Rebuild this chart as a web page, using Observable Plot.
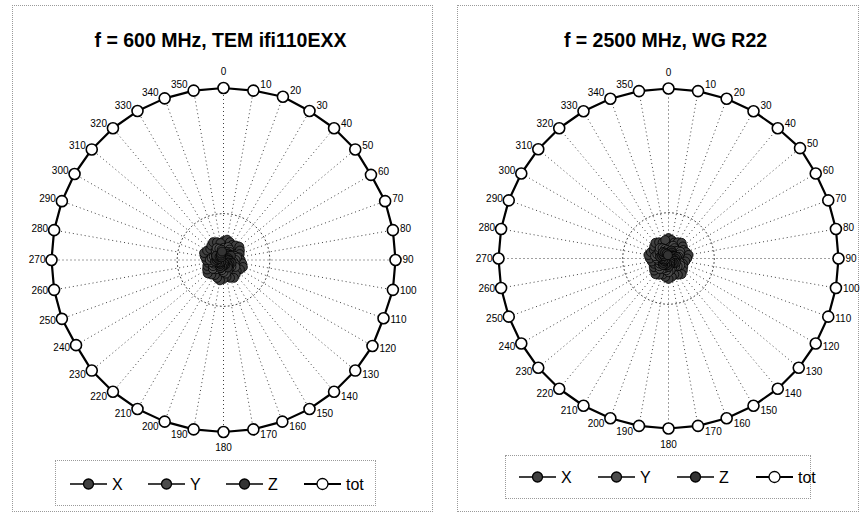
<!DOCTYPE html>
<html>
<head>
<meta charset="utf-8">
<script src="https://cdn.jsdelivr.net/npm/d3@7"></script>
<script src="https://cdn.jsdelivr.net/npm/@observablehq/plot@0.6"></script>
<style>
  html, body { margin: 0; padding: 0; background: #fff; }
  body { width: 862px; height: 517px; position: relative; overflow: hidden;
         font-family: "Liberation Sans", Arial, sans-serif; }
  .box { position: absolute; border: 1px dotted #9a9a9a; box-sizing: border-box; }
  .title { position: absolute; width: 431px; text-align: center; font-weight: bold;
           font-size: 19.5px; line-height: 20px; color: #000; white-space: nowrap; }
  .chart { position: absolute; top: 60px; width: 431px; height: 400px; }
  .legend { position: absolute; left: 0; top: 0; }
</style>
</head>
<body>
<div class="box" style="left:12px;top:5px;width:421px;height:507px;"></div>
<div class="box" style="left:457px;top:5px;width:402px;height:507px;"></div>
<div class="box" style="left:55px;top:460px;width:321px;height:46px;"></div>
<div class="box" style="left:505px;top:455px;width:306px;height:44px;"></div>
<div id="t1" class="title" style="left:5px;top:30px;"></div>
<div id="t2" class="title" style="left:450px;top:30px;"></div>
<div id="c1" class="chart" style="left:0px;"></div>
<div id="c2" class="chart" style="left:431px;"></div>
<svg id="leg" class="legend" width="862" height="517"></svg>
<script>
// ---------- data ----------
const titles = ["f = 600 MHz, TEM ifi110EXX", "f = 2500 MHz, WG R22"];
const seriesNames = ["X", "Y", "Z", "tot"];
const angles = [0,10,20,30,40,50,60,70,80,90,100,110,120,130,140,150,160,170,
                180,190,200,210,220,230,240,250,260,270,280,290,300,310,320,330,340,350];

// panel 1: f = 600 MHz
const p1_X   = [0.11,0.12,0.11,0.10,0.11,0.12,0.11,0.10,0.09,0.10,0.11,0.12,0.11,0.10,0.11,0.12,0.11,0.10,
                0.11,0.12,0.11,0.10,0.11,0.12,0.11,0.10,0.09,0.10,0.11,0.12,0.11,0.10,0.11,0.12,0.11,0.10];
const p1_Y   = [0.07,0.06,0.08,0.07,0.06,0.05,0.06,0.07,0.08,0.07,0.06,0.07,0.08,0.06,0.05,0.06,0.07,0.08,
                0.07,0.06,0.05,0.06,0.07,0.08,0.07,0.06,0.07,0.08,0.07,0.06,0.05,0.06,0.07,0.08,0.07,0.06];
const p1_Z   = [0.04,0.03,0.05,0.04,0.03,0.04,0.05,0.03,0.02,0.03,0.04,0.05,0.04,0.03,0.04,0.05,0.03,0.02,
                0.03,0.04,0.05,0.04,0.03,0.02,0.03,0.04,0.05,0.04,0.03,0.04,0.05,0.03,0.02,0.03,0.04,0.05];
const p1_tot = [1.00,1.00,1.01,1.00,1.00,1.00,0.99,1.00,1.00,1.00,1.00,0.99,1.00,1.00,1.00,1.00,1.00,1.00,
                1.00,1.00,1.00,1.00,1.00,1.00,0.99,1.00,1.00,1.00,1.00,1.00,1.00,1.00,1.00,1.00,1.00,1.00];

// panel 2: f = 2500 MHz
const p2_X   = [0.12,0.11,0.10,0.11,0.12,0.11,0.10,0.11,0.12,0.11,0.10,0.09,0.10,0.11,0.12,0.11,0.10,0.11,
                0.12,0.11,0.10,0.11,0.12,0.11,0.10,0.09,0.10,0.11,0.12,0.11,0.10,0.11,0.12,0.11,0.10,0.11];
const p2_Y   = [0.06,0.07,0.08,0.07,0.06,0.07,0.08,0.07,0.06,0.05,0.06,0.07,0.08,0.07,0.06,0.05,0.06,0.07,
                0.08,0.07,0.06,0.07,0.08,0.07,0.06,0.05,0.06,0.07,0.08,0.07,0.06,0.07,0.08,0.07,0.06,0.05];
const p2_Z   = [0.03,0.04,0.05,0.04,0.03,0.02,0.03,0.04,0.05,0.04,0.03,0.04,0.05,0.04,0.03,0.02,0.03,0.04,
                0.05,0.04,0.03,0.04,0.05,0.04,0.03,0.02,0.03,0.04,0.05,0.04,0.03,0.04,0.05,0.04,0.03,0.02];
const p2_tot = [1.00,1.00,1.00,1.00,1.00,1.01,1.00,1.00,1.00,1.00,1.00,1.00,1.00,1.00,1.00,1.00,1.00,1.00,
                1.00,1.00,1.00,1.00,1.00,1.00,1.00,1.00,1.00,1.00,1.00,1.00,1.00,1.00,1.00,1.00,1.00,1.00];

// ---------- styles ----------
const seriesFill = {X: "#404040", Y: "#4c4c4c", Z: "#333333", tot: "#ffffff"};
const FONT = "'Liberation Sans', Arial, sans-serif";

const rad = a => a * Math.PI / 180;

function buildPanel(el, values, layout) {
  const {s, cx, cy, ax, ay} = layout;
  const W = 431, H = 400;
  const recs = [];
  seriesNames.forEach((name, k) => {
    values[k].forEach((v, i) => recs.push({series: name, angle: angles[i], value: v}));
  });
  const px = d => d.value * Math.sin(rad(d.angle));
  const py = d => d.value * Math.cos(rad(d.angle));
  const tot = recs.filter(d => d.series === "tot");
  const u = 1 / s; // one pixel in data units

  const marks = [
    Plot.link(tot, {x1: 0, y1: 0, x2: px, y2: py, stroke: "#000", strokeWidth: 1,
                    strokeDasharray: "1,3", strokeOpacity: 0.75}),
    Plot.line(angles, {x: a => 0.27 * Math.sin(rad(a)), y: a => 0.27 * Math.cos(rad(a)),
                       curve: "linear-closed", stroke: "#000", strokeWidth: 1,
                       strokeDasharray: "1,3", strokeOpacity: 0.75}),
  ];
  ["X", "Y", "Z"].forEach(name => {
    const data = recs.filter(d => d.series === name);
    marks.push(Plot.line(data, {x: px, y: py, curve: "linear-closed", stroke: "#000", strokeWidth: 1}));
    marks.push(Plot.dot(data, {x: px, y: py, r: 4.5, fill: seriesFill[name], stroke: "#000", strokeWidth: 0.8}));
  });
  marks.push(Plot.line(tot, {x: px, y: py, curve: "linear-closed", stroke: "#000", strokeWidth: 2.2}));
  marks.push(Plot.dot(tot, {x: px, y: py, r: 5.5, fill: "#fff", stroke: "#000", strokeWidth: 1.6}));

  const right = tot.filter(d => d.angle > 0 && d.angle < 180);
  const left = tot.filter(d => d.angle > 180);
  const poles = tot.filter(d => d.angle === 0 || d.angle === 180);
  const lx = d => px(d);
  const ly = d => py(d) + 6 * u * Math.cos(rad(d.angle));
  marks.push(Plot.text(right, {x: lx, y: ly, text: d => String(d.angle), textAnchor: "start", dx: 7,
                               fontSize: 10, fill: "#000", fontFamily: FONT}));
  marks.push(Plot.text(left, {x: lx, y: ly, text: d => String(d.angle), textAnchor: "end", dx: -6,
                              fontSize: 10, fill: "#000", fontFamily: FONT}));
  marks.push(Plot.text(poles, {x: px, y: d => py(d) + 16 * u * Math.cos(rad(d.angle)),
                               text: d => String(d.angle), textAnchor: "middle",
                               fontSize: 10, fill: "#000", fontFamily: FONT}));

  const chart = Plot.plot({
    width: W, height: H,
    marginLeft: cx - ax * s, marginRight: W - (cx + ax * s),
    marginTop: cy - ay * s, marginBottom: H - (cy + ay * s),
    x: {domain: [-ax, ax], axis: null},
    y: {domain: [-ay, ay], axis: null},
    style: {background: "transparent", fontFamily: FONT, fontSize: "10px", overflow: "visible"},
    marks
  });
  el.appendChild(chart);
}

document.getElementById("t1").textContent = titles[0];
document.getElementById("t2").textContent = titles[1];

buildPanel(document.getElementById("c1"), [p1_X, p1_Y, p1_Z, p1_tot],
           {s: 172, cx: 223, cy: 199.5, ax: 1.2, ay: 1.1});
buildPanel(document.getElementById("c2"), [p2_X, p2_Y, p2_Z, p2_tot],
           {s: 170, cx: 237, cy: 198, ax: 1.1, ay: 1.1});

// ---------- legends ----------
const leg = d3.select("#leg");
function legend(x0, y, step) {
  seriesNames.forEach((name, i) => {
    const x = x0 + i * step;
    const g = leg.append("g");
    g.append("line").attr("x1", x).attr("x2", x + 37).attr("y1", y).attr("y2", y)
      .attr("stroke", "#000").attr("stroke-width", name === "tot" ? 2 : 1.6);
    g.append("circle").attr("cx", x + 18.5).attr("cy", y).attr("r", name === "tot" ? 5.5 : 5)
      .attr("fill", seriesFill[name]).attr("stroke", "#000").attr("stroke-width", 1.3);
    g.append("text").attr("x", x + 42).attr("y", y).attr("dy", "0.36em")
      .attr("font-family", FONT).attr("font-size", 16).attr("fill", "#000").text(name);
  });
}
legend(70, 484, 78);
legend(519, 477, 79);
</script>
</body>
</html>
